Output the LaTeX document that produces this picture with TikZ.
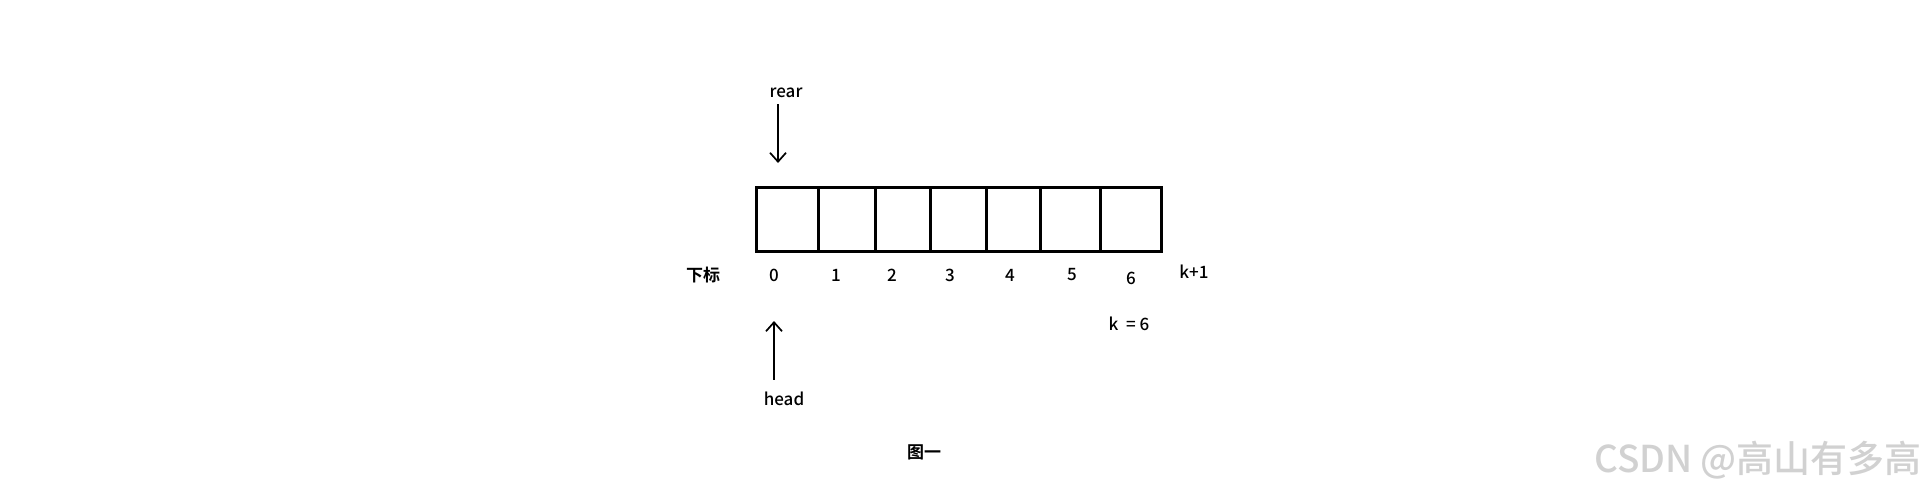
\documentclass[tikz,border=0pt]{standalone}
\usepackage{fontspec}
\setmainfont{Noto Sans CJK SC}[UprightFont={* Medium}, BoldFont={* Bold}]
\usetikzlibrary{positioning,arrows.meta}

\tikzset{
  cellbox/.style={draw, line width=3pt, minimum height=64pt, inner sep=0pt},
  idx/.style={font=\fontsize{17}{20}\selectfont, inner sep=0pt},
  ptr/.style={-{Straight Barb[length=9pt,width=16pt]}, line width=1.7pt}
}

\begin{document}
\begin{tikzpicture}[x=1pt, y=-1pt]
  \useasboundingbox[fill=white] (0,0) rectangle (1927,491);
  % queue cells
  \foreach \i/\cx/\w in {0/787.25/62.5, 1/846.75/56.5, 2/902.5/55, 3/958/56,
                         4/1013/54, 5/1070/60, 6/1130.5/61}
    \node (c\i) [cellbox, minimum width=\w pt] at (\cx,219) {};
  % indices
  \node (sub) [idx, font=\fontsize{17}{20}\selectfont\bfseries] at (703,275) {下标};
  \foreach \i/\lx in {0/774, 1/836, 2/892, 3/950, 4/1010, 5/1072}
    \node (n\i) [idx] at (\lx,275) {\i};
  \node (n6) [idx] at (1131,278) {6};
  \node (kp) [idx] at (1194,272) {k+1};
  \node (keq) [idx] at (1129,324) {k\ \ = 6};
  % pointers
  \node (rear) [idx] at (786,93) {rear};
  \coordinate (reartip) at (778,163);
  \draw[ptr] (rear.south -| reartip) ++(0,6) -- (reartip);
  \node (head) [idx] at (784,399) {head};
  \coordinate (headtip) at (774,321);
  \draw[ptr] (head.north -| headtip) ++(0,-12) -- (headtip);
  % caption
  \node (cap) [idx, font=\fontsize{17}{20}\selectfont\bfseries] at (924,452) {图一};
  % watermark
  \node (wm) [inner sep=0pt, text=black!18, font=\fontsize{37}{40}\selectfont,
              anchor=east] at (1922,460) {CSDN @高山有多高};
\end{tikzpicture}
\end{document}
